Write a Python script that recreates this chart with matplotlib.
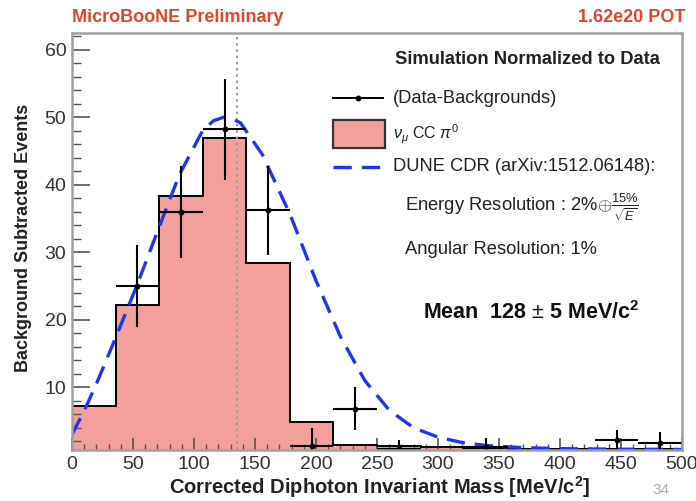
import numpy as np
import matplotlib
matplotlib.use("Agg")
import matplotlib.pyplot as plt
from matplotlib.patches import Rectangle
from matplotlib.lines import Line2D
from matplotlib.ticker import MultipleLocator

plt.rcParams['font.family'] = ['Liberation Sans', 'DejaVu Sans']
plt.rcParams['mathtext.fontset'] = 'custom'
plt.rcParams['mathtext.rm'] = 'Liberation Sans'
plt.rcParams['mathtext.it'] = 'Liberation Sans:italic'
plt.rcParams['mathtext.bf'] = 'Liberation Sans:bold'

# ---- histogram: nu_mu CC pi0 simulation (14 bins over 0-500 MeV/c^2) ----
bin_edges = np.linspace(0, 500, 15)
sim_counts = [7.2, 22.2, 38.4, 47.0, 28.4, 4.8, 1.5, 1.3, 1.1, 1.0, 0.9, 0.9, 0.9, 0.8]

# ---- data minus backgrounds (NaN where the point lies below the axis) ----
data_counts = [np.nan, 25.0, 36.0, 48.2, 36.2, 1.3, 6.8, 0.9, np.nan, 1.2, np.nan, np.nan, 2.2, 1.8]
data_errors = [np.nan, 6.1, 6.8, 7.5, 6.6, 2.6, 3.2, 1.3, np.nan, 1.3, np.nan, np.nan, 1.5, 1.6]

# ---- DUNE CDR resolution expectation ----
dune_mass = [0, 10, 20, 35, 53, 72, 88, 107, 116, 124, 131, 138, 156, 179, 200, 220,
             240, 260, 280, 300, 320, 340, 370, 400, 450, 500]
dune_events = [3.0, 6.5, 10.5, 17.0, 25.0, 34.0, 41.5, 48.0, 49.5, 50.0, 49.8, 49.2, 44.5,
               35.5, 25.8, 17.5, 11.0, 6.6, 4.0, 2.6, 1.8, 1.35, 1.05, 0.9, 0.82, 0.78]

pi0_mass = 135.0
x_ticks = [0, 50, 100, 150, 200, 250, 300, 350, 400, 450, 500]
y_ticks = [10, 20, 30, 40, 50, 60]

W, H = 696, 501
fig = plt.figure(figsize=(W / 100, H / 100), dpi=100)


def fx(px):
    return px / W


def fy(py):
    return 1 - py / H


ax = fig.add_axes([fx(72), fy(450), fx(682) - fx(72), fy(33) - fy(450)])

pink = '#f39f9b'
ax.stairs(sim_counts, bin_edges, fill=True, color=pink, zorder=1)
ax.stairs(sim_counts, bin_edges, color='black', lw=1.4, zorder=2)

ax.axvline(pi0_mass, color='#9a9a9a', ls=(0, (1.2, 2.0)), lw=1.4, zorder=3)

centers = 0.5 * (bin_edges[:-1] + bin_edges[1:])
half_w = 0.5 * np.diff(bin_edges)
ax.errorbar(centers, data_counts, xerr=half_w, yerr=data_errors, fmt='o', ms=3.2,
            color='black', ecolor='black', elinewidth=1.5, capsize=0, zorder=5)

ax.plot(dune_mass, dune_events, color='#2134f2', lw=2.4, ls=(0, (5.5, 3.0)), zorder=4,
        solid_capstyle='butt', dash_capstyle='butt')

ax.set_xlim(0, 500)
ax.set_ylim(0.7, 62.5)
ax.set_xticks(x_ticks)
ax.set_yticks(y_ticks)
ax.xaxis.set_minor_locator(MultipleLocator(10))
ax.yaxis.set_minor_locator(MultipleLocator(2))

tick_col = '#333333'
ax.tick_params(axis='x', which='major', direction='in', length=8.5, width=1.2,
               color='#555555', labelsize=14, labelcolor=tick_col, pad=4)
ax.tick_params(axis='x', which='minor', direction='in', length=4.3, width=1.0, color='#555555')
ax.tick_params(axis='y', which='major', direction='in', length=13, width=1.2,
               color='#555555', labelsize=14, labelcolor=tick_col, pad=4)
ax.tick_params(axis='y', which='minor', direction='in', length=6.5, width=1.0, color='#555555')
for s in ax.spines.values():
    s.set_color('#a0a0a0')
    s.set_linewidth(1.8)
    s.set_zorder(6)

# axis titles
fig.text(fx(380), fy(487), 'Corrected Diphoton Invariant Mass [MeV/c$^{\\mathbf{2}}$]',
         ha='center', va='center', fontsize=14.5, fontweight='bold', color='#222222')
fig.text(fx(24), fy(238), 'Background Subtracted Events', rotation=90,
         ha='center', va='center', fontsize=13, fontweight='bold', color='#222222')

# header
red = '#e8412c'
fig.text(fx(72), fy(18), 'MicroBooNE Preliminary', ha='left', va='center',
         fontsize=13, fontweight='bold', color=red)
fig.text(fx(685), fy(18), '1.62e20 POT', ha='right', va='center',
         fontsize=13, fontweight='bold', color=red)

# legend block
leg_fs = 13.2
fig.text(fx(395), fy(60), 'Simulation Normalized to Data', ha='left', va='center',
         fontsize=leg_fs, fontweight='bold', color='#222222')

fig.add_artist(Line2D([fx(333), fx(383)], [fy(98), fy(98)], color='black', lw=1.4))
fig.add_artist(Line2D([fx(358)], [fy(98)], marker='o', ms=3.2, color='black'))
fig.text(fx(393), fy(98), '(Data-Backgrounds)', ha='left', va='center',
         fontsize=leg_fs, color='#222222')

fig.add_artist(Rectangle((fx(333), fy(148)), fx(385) - fx(333), fy(120) - fy(148),
                         facecolor=pink, edgecolor='#333333', lw=1.6,
                         transform=fig.transFigure))
fig.text(fx(393), fy(134), r'$\nu_{\mu}$ CC $\pi^{0}$', ha='left', va='center',
         fontsize=11.5, color='#222222')

fig.add_artist(Line2D([fx(333), fx(383)], [fy(167), fy(167)], color='#2134f2', lw=2.4,
                      ls=(0, (5.5, 3.0))))
fig.text(fx(393), fy(167), 'DUNE CDR (arXiv:1512.06148):', ha='left', va='center',
         fontsize=leg_fs, color='#222222')
fig.text(fx(405), fy(207), r'Energy Resolution : 2%$\oplus\frac{15\%}{\sqrt{E}}$',
         ha='left', va='center', fontsize=leg_fs, color='#222222')
fig.text(fx(405), fy(250), 'Angular Resolution: 1%', ha='left', va='center',
         fontsize=leg_fs, color='#222222')

fig.text(fx(423), fy(313), r'Mean  128 $\pm$ 5 MeV/c$^{\mathbf{2}}$', ha='left', va='center',
         fontsize=15.5, fontweight='bold', color='#111111')

fig.text(fx(661), fy(490), '34', ha='center', va='center', fontsize=11, color='#b0b0b0')

fig.savefig('out.png', dpi=100)
